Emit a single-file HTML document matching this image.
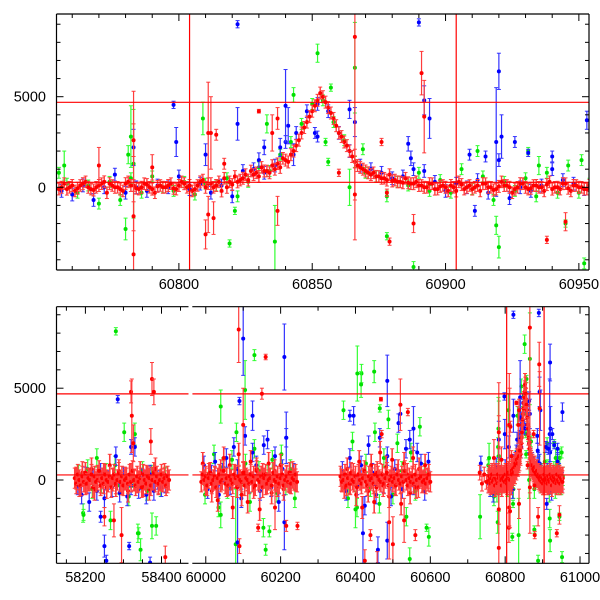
<!DOCTYPE html>
<html><head><meta charset="utf-8"><style>
html,body{margin:0;padding:0;background:#fff;overflow:hidden;width:600px;height:600px}
svg{display:block;font-family:"Liberation Sans",sans-serif}
</style></head><body>
<svg id="chart" width="600" height="600" viewBox="0 0 600 600" xmlns="http://www.w3.org/2000/svg">
<defs>
<clipPath id="clipTop"><rect x="56.5" y="14" width="532.5" height="256"/></clipPath>
<clipPath id="clipB1"><rect x="56.5" y="306.7" width="132" height="256.6"/></clipPath>
<clipPath id="clipB2"><rect x="192.3" y="306.7" width="396.7" height="256.6"/></clipPath>
</defs>
<g id="topPanel"></g>
<g id="botPanel"></g>
</svg>
<script>
// ---------- DATA ----------
const redMjd=[60756,60758,60760,60762,60764,60766,60768,60770,60772,60774,60776,60778,60780,60782,60784,60786,60788,60790,60792,60794,60796,60798,60800,
60802,60804,60806,60808,60810,60812,60814,60816,60818,60820,
60822,60824,60826,60828,60830,60832,60834,
60836,60838,60840,60842,60844,
60846,60848,60850,60852,
60854,60856,60858,60860,60862,60864,60866,60868,60870,60872,60874,60876,60878,60880,60882,60884,60886,60888,
60890,60892,60894,60896,60898,60900,60902,60904,60906,60908,60910,60912,60914,60916,60918,60920,60922,60924,60926,60928,60930,60932,60934,60936,60938,60940,60942,60944,60946,60948,60950,60952,60954,
60841,60843,60845,60847,60849,60851,60853,60855,60857,60859,60861,60863,60865,60867,60869,60871];
const redFlux=[0,-100,100,-50,200,0,-150,100,300,200,0,-100,200,100,-50,0,150,-100,50,0,100,-50,100,
200,100,-100,300,0,200,100,-200,0,150,
300,500,400,700,600,900,800,
1000,1100,1500,1800,2300,
3000,3600,4200,4800,
5000,4400,3800,3000,2500,2000,1400,1100,900,700,600,500,400,350,300,250,250,200,
100,0,200,-100,50,0,100,-200,150,0,-100,100,200,0,-150,50,100,0,-100,200,0,-50,100,0,150,-100,0,200,-50,100,0,-100,100,
1400,2000,2600,3300,3900,4500,5200,4700,4100,3400,2800,2300,1700,1200,1000,800];
const redMjd2=[60755,60757,60759,60761,60763,60765,60767,60769,60771,60773,60775,60777,60779,60781,60783,60785,60787,60789,60791,60793,60795,60797,60799,60801,60803,60805,60807,60809,60811,60813,60815,60817,60819,60821,60823,60825,60827,60829,60831,60833,60835,60837,60839,
60873,60875,60877,60879,60881,60883,60885,60887,60889,60891,60893,60895,60897,60899,60901,60903,60905,60907,60909,60911,60913,60915,60917,60919,60921,60923,60925,60927,60929,60931,60933,60935,60937,60939,60941,60943,60945,60947,60949,60951,60953];
const redFlux2=[-100,200,0,-200,100,300,-100,0,200,-300,100,0,-200,300,100,-100,200,0,-300,100,0,200,-100,300,0,-200,100,400,200,0,300,500,300,600,400,700,900,800,1100,900,1200,1300,1600,
800,600,500,700,400,300,500,200,300,100,0,200,-100,100,-200,0,300,-100,100,0,-200,200,0,-100,300,100,-300,0,200,-100,100,0,-200,300,0,-100,200,-200,100,0,-100];
const redOutMjd=[60770,60783,60783,60783,60790,60810,60811,60812,60811,60814,60813,60817,60830,60835,60837,60837,60866,60866,60860,60876,60879,60888,60891,60892,60938,60945,60878];
const redOutFlux=[1200,-3700,2600,-1600,1100,-2600,3000,3000,-1500,2900,-1700,1300,4200,3000,3800,-1300,8300,-400,800,2500,-3000,-2000,6300,3900,-2900,-1900,-300];
const redOutErr=[1000,9000,900,800,700,800,2800,2000,1000,300,900,300,100,1000,600,800,9000,2500,200,200,200,500,1200,2000,200,500,200];

const blueMjd=[60756,60760,60764,60768,60772,60776,60780,60784,60788,60792,60796,60800,60804,60808,60812,60816,60820,60824,60828,60832,60836,60840,60844,60848,60852,60856,60860,60864,60868,60872,60876,60880,60884,60888,60892,60896,60900,60904,60908,60912,60916,60920,60924,60928,60932,60936,60940,60944,60948,60952];
const blueFlux=[-200,-400,100,-700,0,700,-300,0,-200,100,0,600,-100,200,-300,100,-500,900,1000,800,1200,2500,3000,4200,4600,4200,3000,2000,1200,1000,800,500,600,1000,900,300,-200,200,0,400,-300,1500,-600,0,-200,100,1000,400,200,-100];
const blueOutMjd=[60822,60890,60798,60799,60822,60840,60841,60843,60851,60852,60864,60866,60886,60892,60894,60920,60919,60921,60926,60931,60940,60953,60909,60915,60911,60887,60783,60810,60830,60832,60838];
const blueOutFlux=[9000,9100,4550,2500,3500,4500,3400,1800,3000,2800,4300,3600,2400,4800,3800,6400,2500,2800,2500,1900,1700,3700,1800,1700,-1300,1600,2200,1800,1500,2200,2200];
const blueOutErr=[200,200,200,800,900,2000,1000,600,300,300,500,800,400,800,1100,1000,3000,1200,300,200,300,500,300,300,300,400,1000,600,400,400,500];

const greenMjd=[60758,60762,60766,60770,60774,60778,60782,60786,60790,60794,60798,60802,60806,60810,60814,60818,60822,60826,60830,60834,60838,60842,60846,60850,60854,60858,60862,60866,60870,60874,60878,60882,60886,60890,60894,60898,60902,60906,60910,60914,60918,60922,60926,60930,60934,60938,60942,60946,60950,60954];
const greenFlux=[200,-300,100,-900,300,-700,500,-300,600,0,-200,300,-400,200,100,500,-500,300,1100,900,1800,2500,3500,4600,4800,3600,2600,1400,800,600,-500,300,100,800,-200,400,-300,1000,-100,600,-700,300,-200,500,-500,800,-300,1200,-300,200];
const greenOutMjd=[60755,60757,60780,60781,60782,60783,60809,60819,60821,60833,60843,60852,60855,60856,60857,60864,60866,60869,60878,60888,60912,60919,60920,60931,60935,60945,60951,60952,60836];
const greenOutFlux=[800,1200,-2300,1800,2800,1300,3800,-3100,-1300,3500,5100,7400,2500,1400,5500,0,6600,2100,-2700,-4400,2000,-2100,-3300,2000,1200,-2000,1500,-4200,-3000];
const greenOutErr=[300,800,600,500,1700,3000,900,200,200,500,400,500,200,200,200,1000,2500,300,200,300,300,500,600,200,500,200,300,300,2000];

// bottom-panel clusters (earlier seasons)
const redMjdA=[58176,58184,58192,58200,58208,58216,58224,58232,58240,58248,58256,58264,58272,58280,58288,58296,58304,58312,58320,58328,58336,58344,58352,58360,58368,58376,58384,58392,58400,58408,58416];
const redFluxA=[100,-300,400,-200,0,600,-500,200,-100,300,-400,800,0,-300,500,-200,100,-600,300,0,-100,400,-300,200,-500,100,600,-200,0,300,-100];
const redCoreMjdA=[58172,58176,58180,58184,58188,58192,58196,58200,58204,58208,58212,58216,58220,58224,58228,58232,58236,58240,58244,58248,58252,58256,58260,58264,58268,58272,58276,58280,58284,58288,58292,58296,58300,58304,58308,58312,58316,58320,58324,58328,58332,58336,58340,58344,58348,58352,58356,58360,58364,58368,58372,58376,58380,58384,58388,58392,58396,58400,58404,58408,58412,58416,58420];
const redCoreFluxA=[100,-200,300,0,-300,200,-100,400,-200,100,0,300,-400,200,-100,0,500,-300,100,-200,300,0,-100,200,-400,100,300,-200,0,400,-100,200,-300,0,100,-200,300,-100,500,0,-300,200,-100,100,-400,300,0,-200,200,100,-300,0,400,-100,200,-200,0,300,-100,100,-300,200,0];
const blueMjdA=[58180,58190,58200,58210,58220,58230,58240,58250,58260,58270,58280,58290,58300,58310,58320,58330,58340,58350,58360,58370,58380,58390,58400,58410];
const blueFluxA=[-300,-800,200,-1200,100,-600,400,-1000,0,-400,1300,-700,200,-900,-300,1800,-500,100,-800,300,-600,0,-400,-200];
const greenMjdA=[58182,58194,58206,58218,58230,58242,58254,58266,58278,58290,58302,58314,58326,58338,58350,58362,58374,58386,58398,58410];
const greenFluxA=[300,-1800,600,-500,1200,-200,400,-2200,800,-300,2600,-900,100,-2900,500,-600,300,-2500,-400,200];

const redMjdB=[59992,60000,60008,60016,60024,60032,60040,60048,60056,60064,60072,60080,60088,60096,60104,60112,60120,60128,60136,60144,60152,60160,60168,60176,60184,60192,60200,60208,60216,60224,60232,60240];
const redFluxB=[900,-200,300,-600,100,-1100,500,1200,-300,800,-1500,200,1400,-800,400,-1200,1000,-400,600,-1600,300,-200,900,-700,500,-300,800,-500,200,-100,400,0];
const redCoreMjdB=[59988,59992,59996,60000,60004,60008,60012,60016,60020,60024,60028,60032,60036,60040,60044,60048,60052,60056,60060,60064,60068,60072,60076,60080,60084,60088,60092,60096,60100,60104,60108,60112,60116,60120,60124,60128,60132,60136,60140,60144,60148,60152,60156,60160,60164,60168,60172,60176,60180,60184,60188,60192,60196,60200,60204,60208,60212,60216,60220,60224,60228,60232,60236,60240,60244];
const redCoreFluxB=[-100,300,0,200,-300,100,400,-200,0,200,-400,100,300,-100,0,500,-200,100,-300,200,0,-200,300,100,-400,200,0,-100,400,-300,100,0,-200,300,-100,200,-300,500,0,-100,200,-400,100,300,-200,0,100,-300,400,0,-100,200,-200,100,300,-300,0,200,-100,400,-200,100,0,300,-100];
const blueMjdB=[59995,60005,60015,60025,60035,60045,60055,60065,60075,60085,60095,60105,60115,60125,60135,60145,60155,60165,60175,60185,60195,60205,60215,60225,60235];
const blueFluxB=[800,-500,300,1000,-800,400,1200,-300,1800,600,-1000,2400,-200,1500,800,-600,1900,2200,-400,1300,-1200,600,2300,-200,400];
const greenMjdB=[59998,60010,60022,60034,60046,60058,60070,60082,60094,60106,60118,60130,60142,60154,60166,60178,60190,60202,60214,60226,60238];
const greenFluxB=[-800,400,1400,-1500,700,-500,1100,2600,-300,900,-1200,1700,500,-2600,300,1100,-700,1400,-300,600,-1000];

const redMjdC=[60362,60370,60378,60386,60394,60402,60410,60418,60426,60434,60442,60450,60458,60466,60474,60482,60490,60498,60506,60514,60522,60530,60538,60546,60554,60562,60570,60578,60586,60594];
const redFluxC=[0,-400,600,-200,300,-800,1000,-1500,200,-600,800,-1200,400,1500,-300,700,-900,1100,-200,500,-1300,900,300,-700,1200,-400,600,-100,800,0];
const redCoreMjdC=[60360,60364,60368,60372,60376,60380,60384,60388,60392,60396,60400,60404,60408,60412,60416,60420,60424,60428,60432,60436,60440,60444,60448,60452,60456,60460,60464,60468,60472,60476,60480,60484,60488,60492,60496,60500,60504,60508,60512,60516,60520,60524,60528,60532,60536,60540,60544,60548,60552,60556,60560,60564,60568,60572,60576,60580,60584,60588,60592,60596,60600];
const redCoreFluxC=[200,-100,0,300,-300,100,-200,400,0,-100,200,-400,300,0,-200,100,500,-100,-300,200,0,100,-200,300,-400,200,0,-100,300,-200,100,400,-300,0,200,-100,100,-300,300,0,-200,200,-100,500,0,-300,100,-100,200,-200,300,0,-400,100,200,-100,0,-200,100,300,-100];
const blueMjdC=[60365,60375,60385,60395,60405,60415,60425,60435,60445,60455,60465,60475,60485,60495,60505,60515,60525,60535,60545,60555,60565,60575,60585,60595];
const blueFluxC=[500,-600,1200,3500,-300,800,-1400,1900,400,-800,2300,-200,1300,-900,600,3100,-500,1700,2200,-300,1500,900,-600,1000];
const greenMjdC=[60368,60380,60392,60404,60416,60428,60440,60452,60464,60476,60488,60500,60512,60524,60536,60548,60560,60572,60584,60596];
const greenFluxC=[3800,-1000,2100,-1500,5800,900,-400,2600,-1300,1200,3300,-800,2000,500,-2000,1500,-600,2900,400,-3100];

const redOutMjdBot=[58275,58295,58320,58322,58326,58375,58380,58372,58410,58250,60088,60090,60150,60160,60140,60185,60215,60245,60100,60425,60440,60458,60468,60470,60490,60520,60540,60530,60560,60500,60732,60738,60744,60750];
const redOutFluxBot=[-2200,-3000,4800,3500,2000,5500,4800,2100,-4200,-2000,8200,-3600,4700,6700,-2600,-1500,-2500,-2500,3000,-4400,-3000,-4600,4400,2500,-2300,4100,3700,-2200,-3000,-3500,400,-200,300,-100];
const redOutErrBot=[900,1500,600,2000,1000,900,700,700,600,500,1800,400,300,150,200,1200,300,200,2000,600,300,700,100,200,2000,1400,200,1200,300,1500,400,400,400,400];
const blueOutMjdBot=[58285,58250,58255,58315,58320,58370,58240,60100,60085,60090,60125,60210,60215,60210,60385,60420,60460,60485,60485,60520,60555,60735];
const blueOutFluxBot=[4400,-3600,-4400,-3600,1800,-4500,-2000,7700,-3400,4300,3500,6700,2300,-2300,3500,-2900,-3800,5400,-3300,3600,2800,900];
const blueOutErrBot=[200,600,300,200,400,300,300,2000,3000,200,800,1800,1400,1500,300,2000,700,1400,1000,500,1200,400];
const greenOutMjdBot=[58280,58330,58340,58345,58375,58195,60040,60105,60130,60080,60160,60170,60040,60405,60415,60450,60465,60545,60590,60400,60733];
const greenOutFluxBot=[8100,2500,-2900,-3800,-2500,-1900,4000,4900,6800,-3500,-3800,-2800,-1900,5800,5200,5900,3900,-4300,-2600,-1600,-2000];
const greenOutErrBot=[200,600,300,600,700,300,900,1600,300,3000,300,300,700,1500,700,600,200,600,200,1000,1200];

const hLines=[4690,276];
const vLines=[60804,60904];
const topXTicks=[60800,60850,60900,60950];
const botXTicksA=[58200,58400];
const botXTicksB=[60000,60200,60400,60600,60800,61000];
const yTickLabels=[5000,0];

// ---------- SCALES ----------
const NS="http://www.w3.org/2000/svg";
function lin(d0,d1,r0,r1){return v=>r0+(v-d0)/(d1-d0)*(r1-r0);}
const topX=lin(60754.1,60953.8,56.5,589);
const topY=lin(-4564,9564,270,14);
const bAX=lin(58124,58471,56.5,188.5);
const bBX=lin(59964,61024,192.3,589);
const bY=lin(-4537,9439,563.3,306.7);

function mk(tag,attrs,parent){const e=document.createElementNS(NS,tag);for(const k in attrs)e.setAttribute(k,attrs[k]);parent.appendChild(e);return e;}

function drawPts(g,xs,ys,errs,defErr,sx,sy,col,ecol,name,sw){
  sw=sw||1.2;
  const grp=mk('g',{},g);
  
  
  for(let i=0;i<xs.length;i++){
    const x=sx(xs[i]),y=sy(ys[i]);const er=errs?errs[i]:defErr;
    const y1=sy(ys[i]+er),y2=sy(ys[i]-er);
    mk('line',{x1:x,x2:x,y1:y1,y2:y2,stroke:ecol,'stroke-width':sw},grp);
    mk('line',{x1:x-2,x2:x+2,y1:y1,y2:y1,stroke:ecol,'stroke-width':1},grp);
    mk('line',{x1:x-2,x2:x+2,y1:y2,y2:y2,stroke:ecol,'stroke-width':1},grp);
    const c=mk('circle',{cx:x,cy:y,r:2,fill:col},grp);
    
    
  }
}

function frame(g,x0,x1,y0,y1,left,right){
  mk('line',{x1:x0,x2:x1,y1:y0,y2:y0,stroke:'#000','stroke-width':1.2},g);
  mk('line',{x1:x0,x2:x1,y1:y1,y2:y1,stroke:'#000','stroke-width':1.2},g);
  if(left)mk('line',{x1:x0,x2:x0,y1:y0,y2:y1,stroke:'#000','stroke-width':1.2},g);
  if(right)mk('line',{x1:x1,x2:x1,y1:y0,y2:y1,stroke:'#000','stroke-width':1.2},g);
}
function xTicks(g,sx,vals,minorStep,lo,hi,y0,y1,labelY,labelName){
  for(let v=Math.ceil(lo/minorStep)*minorStep;v<=hi;v+=minorStep){
    const x=sx(v);const major=vals.includes(v);const L=major?7:4;
    mk('line',{x1:x,x2:x,y1:y1,y2:y1-L,stroke:'#000','stroke-width':1},g);
    mk('line',{x1:x,x2:x,y1:y0,y2:y0+L,stroke:'#000','stroke-width':1},g);
  }
  vals.forEach(v=>{const t=mk('text',{x:sx(v),y:labelY,'text-anchor':'middle','font-size':14.5},g);t.textContent=v;
    });
}
function yTicks(g,sy,x0,x1,lo,hi,bothSides){
  for(let v=Math.ceil(lo/1000)*1000;v<=hi;v+=1000){
    const y=sy(v);const major=v%5000===0;const L=major?7:4;
    if(bothSides.l)mk('line',{x1:x0,x2:x0+L,y1:y,y2:y,stroke:'#000','stroke-width':1},g);
    if(bothSides.r)mk('line',{x1:x1,x2:x1-L,y1:y,y2:y,stroke:'#000','stroke-width':1},g);
  }
}
function yLabels(g,sy){
  yTickLabels.forEach(v=>{const t=mk('text',{x:46,y:sy(v)+5,'text-anchor':'end','font-size':14.5},g);t.textContent=v;
    });
}

// ---------- TOP PANEL ----------
const T=document.getElementById('topPanel');
const tc=mk('g',{'clip-path':'url(#clipTop)'},T);
drawPts(tc,greenMjd,greenFlux,null,300,topX,topY,'#00e000','#33ff33','green-series');
drawPts(tc,greenOutMjd,greenOutFlux,greenOutErr,0,topX,topY,'#00e000','#33ff33','green-outliers');
drawPts(tc,blueMjd,blueFlux,null,350,topX,topY,'#0000ff','#3333ff','blue-series');
drawPts(tc,blueOutMjd,blueOutFlux,blueOutErr,0,topX,topY,'#0000ff','#3333ff','blue-outliers');
drawPts(tc,redMjd2,redFlux2,null,320,topX,topY,'#ff0000','#ff3c3c','red-series-b',1.4);
drawPts(tc,redMjd,redFlux,null,330,topX,topY,'#ff0000','#ff3c3c','red-series',1.4);
drawPts(tc,redOutMjd,redOutFlux,redOutErr,0,topX,topY,'#ff0000','#ff3c3c','red-outliers');
hLines.forEach(v=>mk('line',{x1:56.5,x2:589,y1:topY(v),y2:topY(v),stroke:'#ff0000','stroke-width':1.2},tc));
vLines.forEach(v=>mk('line',{x1:topX(v),x2:topX(v),y1:14,y2:270,stroke:'#ff0000','stroke-width':1.2},tc));
frame(T,56.5,589,14,270,true,true);
xTicks(T,topX,topXTicks,10,60760,60950,14,270,289,'x-tick-label');
yTicks(T,topY,56.5,589,-4000,9000,{l:true,r:true});
yLabels(T,topY);

// ---------- BOTTOM PANEL ----------
const B=document.getElementById('botPanel');
const b1=mk('g',{'clip-path':'url(#clipB1)'},B);
const b2=mk('g',{'clip-path':'url(#clipB2)'},B);
// segment A
drawPts(b1,greenMjdA,greenFluxA,null,500,bAX,bY,'#00e000','#33ff33','green-season-1');
drawPts(b1,greenOutMjdBot,greenOutFluxBot,greenOutErrBot,0,bAX,bY,'#00e000','#33ff33','green-outliers-1');
drawPts(b1,blueMjdA,blueFluxA,null,500,bAX,bY,'#0000ff','#3333ff','blue-season-1');
drawPts(b1,blueOutMjdBot,blueOutFluxBot,blueOutErrBot,0,bAX,bY,'#0000ff','#3333ff','blue-outliers-1');
drawPts(b1,redMjdA,redFluxA,null,600,bAX,bY,'#ff0000','#ff3c3c','red-season-1',1.6);
drawPts(b1,redCoreMjdA,redCoreFluxA,null,550,bAX,bY,'#ff0000','#ff3c3c','red-core-1',1.6);
drawPts(b1,redOutMjdBot,redOutFluxBot,redOutErrBot,0,bAX,bY,'#ff0000','#ff3c3c','red-outliers-1');
// segment B
[[greenMjdB,greenFluxB],[greenMjdC,greenFluxC],[greenMjd,greenFlux]].forEach(a=>drawPts(b2,a[0],a[1],null,500,bBX,bY,'#00e000','#33ff33','green-season'));
drawPts(b2,greenOutMjdBot,greenOutFluxBot,greenOutErrBot,0,bBX,bY,'#00e000','#33ff33','green-outliers');
drawPts(b2,greenOutMjd,greenOutFlux,greenOutErr,0,bBX,bY,'#00e000','#33ff33','green-outliers');
[[blueMjdB,blueFluxB],[blueMjdC,blueFluxC],[blueMjd,blueFlux]].forEach(a=>drawPts(b2,a[0],a[1],null,500,bBX,bY,'#0000ff','#3333ff','blue-season'));
drawPts(b2,blueOutMjdBot,blueOutFluxBot,blueOutErrBot,0,bBX,bY,'#0000ff','#3333ff','blue-outliers');
drawPts(b2,blueOutMjd,blueOutFlux,blueOutErr,0,bBX,bY,'#0000ff','#3333ff','blue-outliers');
[[redMjdB,redFluxB],[redMjdC,redFluxC],[redMjd,redFlux],[redMjd2,redFlux2]].forEach(a=>drawPts(b2,a[0],a[1],null,600,bBX,bY,'#ff0000','#ff3c3c','red-season',1.6));
[[redCoreMjdB,redCoreFluxB],[redCoreMjdC,redCoreFluxC]].forEach(a=>drawPts(b2,a[0],a[1],null,550,bBX,bY,'#ff0000','#ff3c3c','red-core',1.6));
drawPts(b2,redOutMjdBot,redOutFluxBot,redOutErrBot,0,bBX,bY,'#ff0000','#ff3c3c','red-outliers');
drawPts(b2,redOutMjd,redOutFlux,redOutErr,0,bBX,bY,'#ff0000','#ff3c3c','red-outliers');
hLines.forEach(v=>{mk('line',{x1:56.5,x2:188.5,y1:bY(v),y2:bY(v),stroke:'#ff0000','stroke-width':1.2},b1);
  mk('line',{x1:192.3,x2:589,y1:bY(v),y2:bY(v),stroke:'#ff0000','stroke-width':1.2},b2);});
vLines.forEach(v=>mk('line',{x1:bBX(v),x2:bBX(v),y1:306.7,y2:563.3,stroke:'#ff0000','stroke-width':1.2},b2));
frame(B,56.5,188.5,306.7,563.3,true,false);
frame(B,192.3,589,306.7,563.3,false,true);
xTicks(B,bAX,botXTicksA,50,58150,58450,306.7,563.3,582,'x-tick-label');
xTicks(B,bBX,botXTicksB,100,60000,61000,306.7,563.3,582,'x-tick-label');
yTicks(B,bY,56.5,589,-4000,9000,{l:true,r:true});
yLabels(B,bY);
</script>
</body></html>
